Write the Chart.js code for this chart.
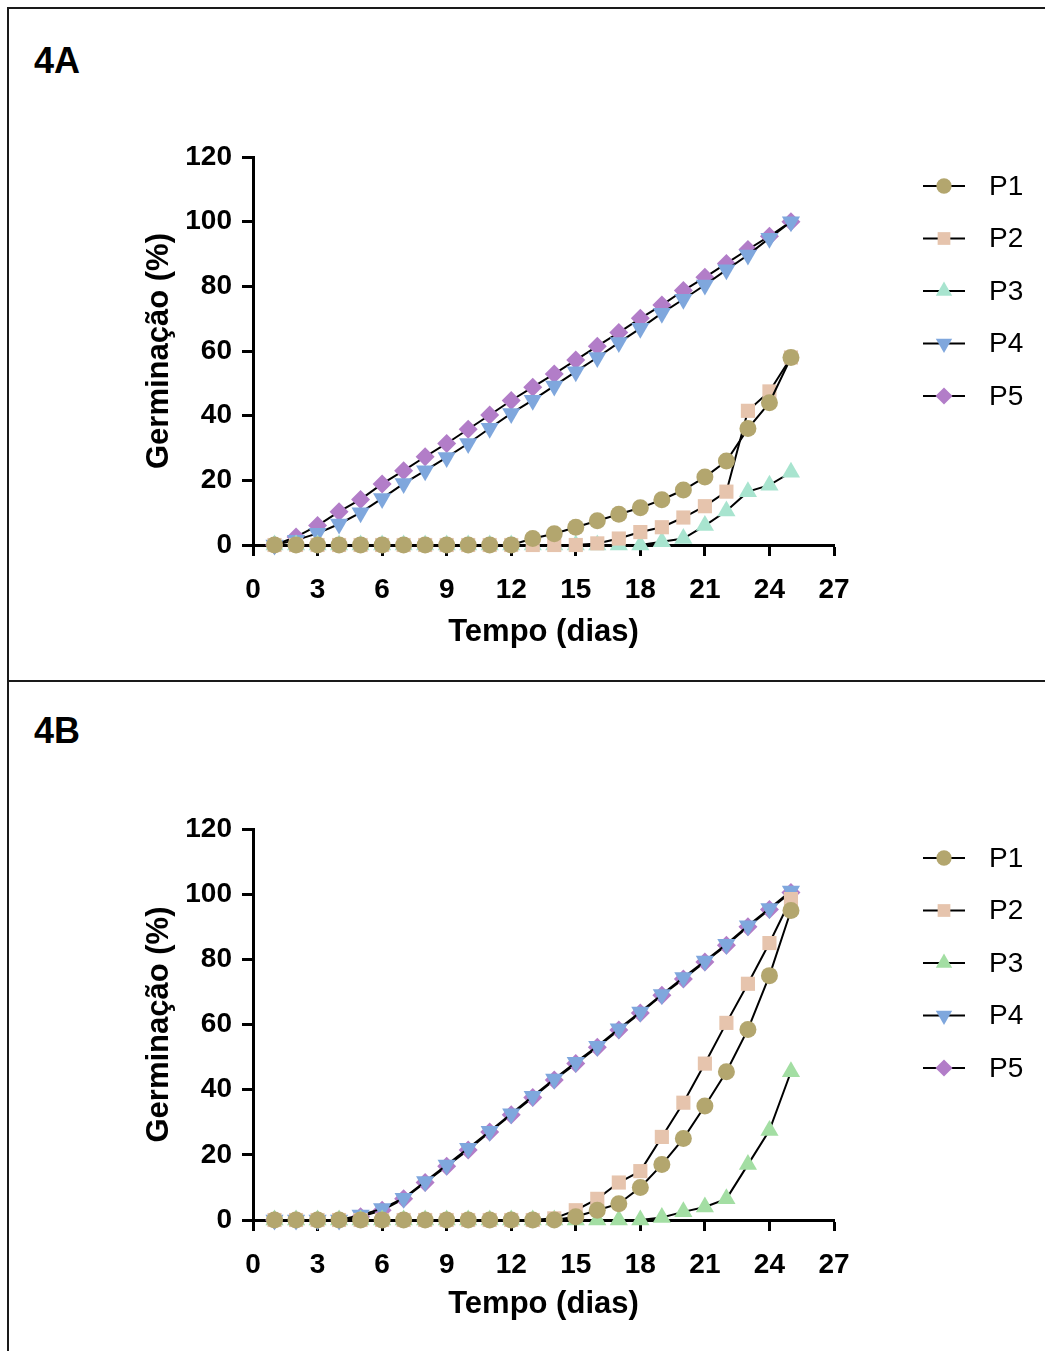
<!DOCTYPE html>
<html><head><meta charset="utf-8">
<script src="https://cdn.jsdelivr.net/npm/chart.js@4.4.1/dist/chart.umd.min.js"></script>
<style>
html,body{margin:0;padding:0;background:#fff;width:1045px;height:1351px;overflow:hidden;position:relative;font-family:'Liberation Sans',Arial,sans-serif;}
.bd{position:absolute;background:#1a1a1a;}
.lbl{position:absolute;font-weight:bold;font-size:36px;line-height:36px;font-family:'Liberation Sans',Arial,sans-serif;color:#000;}
canvas{position:absolute;left:0;}
</style></head><body>
<div class="bd" style="left:7px;top:7px;width:1045px;height:2px"></div>
<div class="bd" style="left:7px;top:7px;width:2px;height:1344px"></div>
<div class="bd" style="left:7px;top:680px;width:1045px;height:2px"></div>
<div class="lbl" style="left:34px;top:43px">4A</div>
<div class="lbl" style="left:34px;top:713px">4B</div>
<canvas id="cA" width="1045" height="680" style="top:0px"></canvas>
<canvas id="cB" width="1045" height="671" style="top:680px"></canvas>
<script>
// ---- data ----
const days = [1,2,3,4,5,6,7,8,9,10,11,12,13,14,15,16,17,18,19,20,21,22,23,24,25];
const seriesNames = ['P1','P2','P3','P4','P5'];
const xTicks = [0,3,6,9,12,15,18,21,24,27];
const yTicks = [0,20,40,60,80,100,120];

// Panel 4A
const p1A = [0,0,0,0,0,0,0,0,0,0,0,0,2,3.5,5.5,7.5,9.5,11.5,14,17,21,26,36,44,58];
const p2A = [0,0,0,0,0,0,0,0,0,0,0,0,0,0,0,0.5,2,4,5.5,8.5,12,16.5,41.5,47.5,58];
const p3A = [0,0,0,0,0,0,0,0,0,0,0,0,0,0,0,0,0,0,1,2,6,10.5,16.5,18.5,22.5];
const p4A = [0,1.5,3.6,6.5,10,14.4,19,23,27.1,31.4,36.1,40.7,44.8,49.2,53.6,58,62.6,67,71.7,76,80.4,85.1,89.7,94.9,100];
const p5A = [0,2.5,6,10.3,14.1,18.9,23,27.3,31.4,35.8,40.2,44.7,48.8,52.9,57.2,61.5,65.7,70.1,74.2,78.7,82.8,87.1,91.4,95.5,100];

// Panel 4B
const p1B = [0,0,0,0,0,0,0,0,0,0,0,0,0,0,1,3,5,10,17,25,35,45.5,58.5,75,95];
const p2B = [0,0,0,0,0,0,0,0,0,0,0,0,0,0.5,3,6.5,11.5,15,25.5,36,48,60.5,72.5,85,98.5];
const p3B = [0,0,0,0,0,0,0,0,0,0,0,0,0,0,0,0,0,0,0.8,2.5,4,6.5,17,27.5,45.5];
const p4B = [0,0,0,0,1.5,3.5,6.7,11.8,16.9,22,27.2,32.6,38,43.3,48.4,53.3,58.7,63.8,69.2,74.4,79.5,84.6,90.3,95.6,101];
const p5B = [0,0,0,0,1,3,6.5,11.5,16.5,21.5,27,32.3,37.6,43,48,53,58.3,63.5,69,74,79.2,84.3,90,95.3,100.5];

// ---- styles ----
const FONT = "'Liberation Sans', Arial, sans-serif";
const markers = [
  {pointStyle:'circle', radius:8.5, rotation:0},
  {pointStyle:'rect', radius:10, rotation:0},
  {pointStyle:'triangle', radius:10.5, rotation:0},
  {pointStyle:'triangle', radius:10.5, rotation:180},
  {pointStyle:'rectRot', radius:9.5, rotation:0}
];
const colorsA = ['#b3a66e','#e6c4ad','#a8e4cf','#7fa7dd','#b27dc8'];
const colorsB = ['#b3a66e','#e6c4ad','#a3dea3','#7fa7dd','#b27dc8'];

function makeDatasets(values, colors){
  return values.map((vals,i)=>({
    label: seriesNames[i],
    data: days.map((d,k)=>({x:d, y:vals[k]})),
    borderColor:'#000',
    borderWidth:2,
    tension:0,
    fill:false,
    clip:false,
    pointStyle: markers[i].pointStyle,
    pointRadius: markers[i].radius,
    pointRotation: markers[i].rotation,
    pointBackgroundColor: colors[i],
    pointBorderColor: colors[i],
    pointBorderWidth: 0,
    pointHoverRadius: markers[i].radius
  }));
}

const sideLegend = {
  id:'sideLegend',
  afterDraw(chart, args, opts){
    const ctx = chart.ctx;
    ctx.save();
    chart.data.datasets.forEach((ds,i)=>{
      const y = opts.top + i*opts.gap;
      ctx.strokeStyle='#000'; ctx.lineWidth=2;
      ctx.beginPath(); ctx.moveTo(923,y); ctx.lineTo(965,y); ctx.stroke();
      ctx.fillStyle = ds.pointBackgroundColor;
      Chart.helpers.drawPoint(ctx, {pointStyle: ds.pointStyle, radius: ds.pointRadius*0.9, rotation: ds.pointRotation, borderWidth:0}, 944, y);
      ctx.fillStyle='#000';
      ctx.font = '28px ' + FONT;
      ctx.textBaseline='middle'; ctx.textAlign='left';
      ctx.fillText(ds.label, 989, y+1);
    });
    ctx.restore();
  }
};

function makeChart(id, values, colors, cfg){
  return new Chart(document.getElementById(id), {
    type:'line',
    data:{datasets: makeDatasets(values, colors)},
    plugins:[sideLegend],
    options:{
      responsive:false,
      animation:false,
      events:[],
      layout:{padding:{left:141, right:211, top:cfg.top, bottom:cfg.bottom}},
      plugins:{
        legend:{display:false},
        tooltip:{enabled:false},
        sideLegend:{top:cfg.legendTop, gap:52.5}
      },
      scales:{
        x:{
          type:'linear', min:0, max:27,
          afterBuildTicks(s){ s.ticks = xTicks.map(v=>({value:v})); },
          afterFit(s){ s.height = cfg.xHeight; },
          ticks:{color:'#000', font:{family:FONT, size:28, weight:'bold'}, padding:17, maxRotation:0, autoSkip:false},
          grid:{drawOnChartArea:false, drawTicks:true, tickLength:11, tickWidth:3, tickColor:'#000'},
          border:{display:true, color:'#000', width:3},
          title:{display:true, text:'Tempo (dias)', color:'#000', font:{family:FONT, size:31, weight:'bold'}, padding:0}
        },
        y:{
          type:'linear', min:0, max:120,
          afterBuildTicks(s){ s.ticks = yTicks.map(v=>({value:v})); },
          afterFit(s){ s.width = 112; },
          ticks:{color:'#000', font:{family:FONT, size:28, weight:'bold'}, padding:10},
          grid:{drawOnChartArea:false, drawTicks:true, tickLength:11, tickWidth:3, tickColor:'#000'},
          border:{display:true, color:'#000', width:3},
          title:{display:true, text:'Germinação (%)', color:'#000', font:{family:FONT, size:31, weight:'bold'}, padding:0}
        }
      }
    }
  });
}

makeChart('cA', [p1A,p2A,p3A,p4A,p5A], colorsA, {top:157, bottom:29, xHeight:106, legendTop:186});
makeChart('cB', [p1B,p2B,p3B,p4B,p5B], colorsB, {top:149, bottom:28, xHeight:103, legendTop:178});
</script>
</body></html>
